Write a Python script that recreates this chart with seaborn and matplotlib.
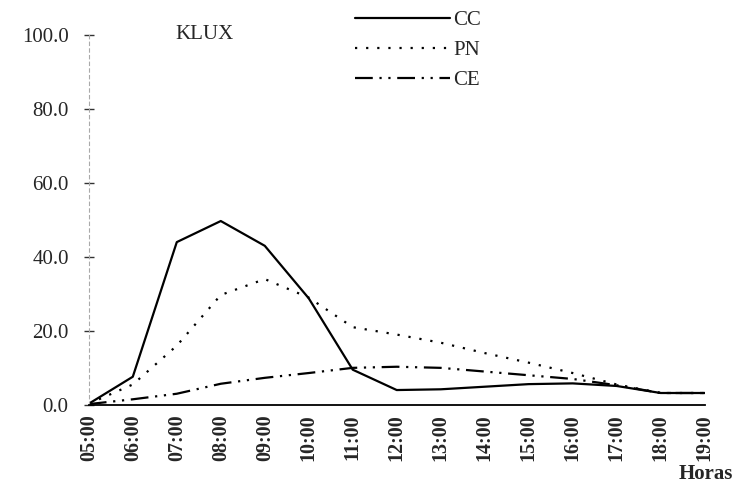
import pandas as pd
import matplotlib.pyplot as plt
import seaborn as sns

# Data (KLUX per hour)
hours = [5, 6, 7, 8, 9, 10, 11, 12, 13, 14, 15, 16, 17, 18, 19]
hour_labels = ['05:00', '06:00', '07:00', '08:00', '09:00', '10:00', '11:00', '12:00',
               '13:00', '14:00', '15:00', '16:00', '17:00', '18:00', '19:00']
cc = [0.3, 7.6, 44.0, 49.7, 43.0, 28.8, 9.5, 4.0, 4.2, 4.9, 5.6, 5.8, 5.1, 3.2, 3.2]
pn = [0.3, 5.5, 16.0, 29.7, 34.0, 29.0, 21.0, 19.0, 16.8, 14.0, 11.4, 8.6, 5.5, 3.2, 3.2]
ce = [0.2, 1.5, 3.0, 5.7, 7.3, 8.6, 10.0, 10.3, 10.0, 9.0, 8.0, 7.0, 5.3, 3.2, 3.2]
series_names = ['CC', 'PN', 'CE']

df = pd.DataFrame({
    'Hora': hours * 3,
    'KLUX': cc + pn + ce,
    'Serie': [s for s in series_names for _ in hours],
})

sns.set_style('white')
plt.rcParams['font.family'] = ['Liberation Serif', 'DejaVu Serif']

fig = plt.figure(figsize=(7.34, 4.86), dpi=100)
ax = fig.add_axes([0.121, 0.167, 0.839, 0.761])

dashes = {'CC': '', 'PN': (1, 4), 'CE': (8, 3, 1, 3, 1, 3)}
sns.lineplot(data=df, x='Hora', y='KLUX', hue='Serie', style='Serie',
             palette=['black', 'black', 'black'], dashes=dashes,
             linewidth=1.6, ax=ax)

ax.set_xlim(5, 19)
ax.set_ylim(0, 100)
ax.set_xticks(hours)
ax.set_xticklabels(hour_labels, rotation=90, fontsize=14.5, fontweight='bold')
ax.set_yticks([0, 20, 40, 60, 80, 100])
ax.set_yticklabels(['0.0', '20.0', '40.0', '60.0', '80.0', '100.0'], fontsize=15)
ax.tick_params(axis='x', bottom=False, length=0, pad=7)
ax.tick_params(axis='y', left=True, direction='inout', length=7, width=1,
               color='#333333', pad=11)
ax.set_xlabel('')
ax.set_ylabel('')

sns.despine(ax=ax, top=True, right=True)
ax.spines['left'].set_color('#aaaaaa')
ax.spines['left'].set_linestyle((0, (3, 3)))
ax.spines['bottom'].set_color('black')
ax.spines['bottom'].set_linewidth(1.3)

ax.text(0.14, 1.0, 'KLUX', transform=ax.transAxes, fontsize=15, va='center', ha='left')

leg = ax.legend(loc='upper left', bbox_to_anchor=(0.483, 0.978),
                bbox_transform=fig.transFigure, frameon=False, borderpad=0,
                borderaxespad=0, handlelength=4.6, handletextpad=0.15,
                labelspacing=0.5, fontsize=15)
for line in leg.get_lines():
    line.set_linewidth(1.6)

fig.text(0.999, 0.005, 'Horas', fontsize=15, fontweight='bold', ha='right', va='bottom')

fig.savefig('out.png', dpi=100)
